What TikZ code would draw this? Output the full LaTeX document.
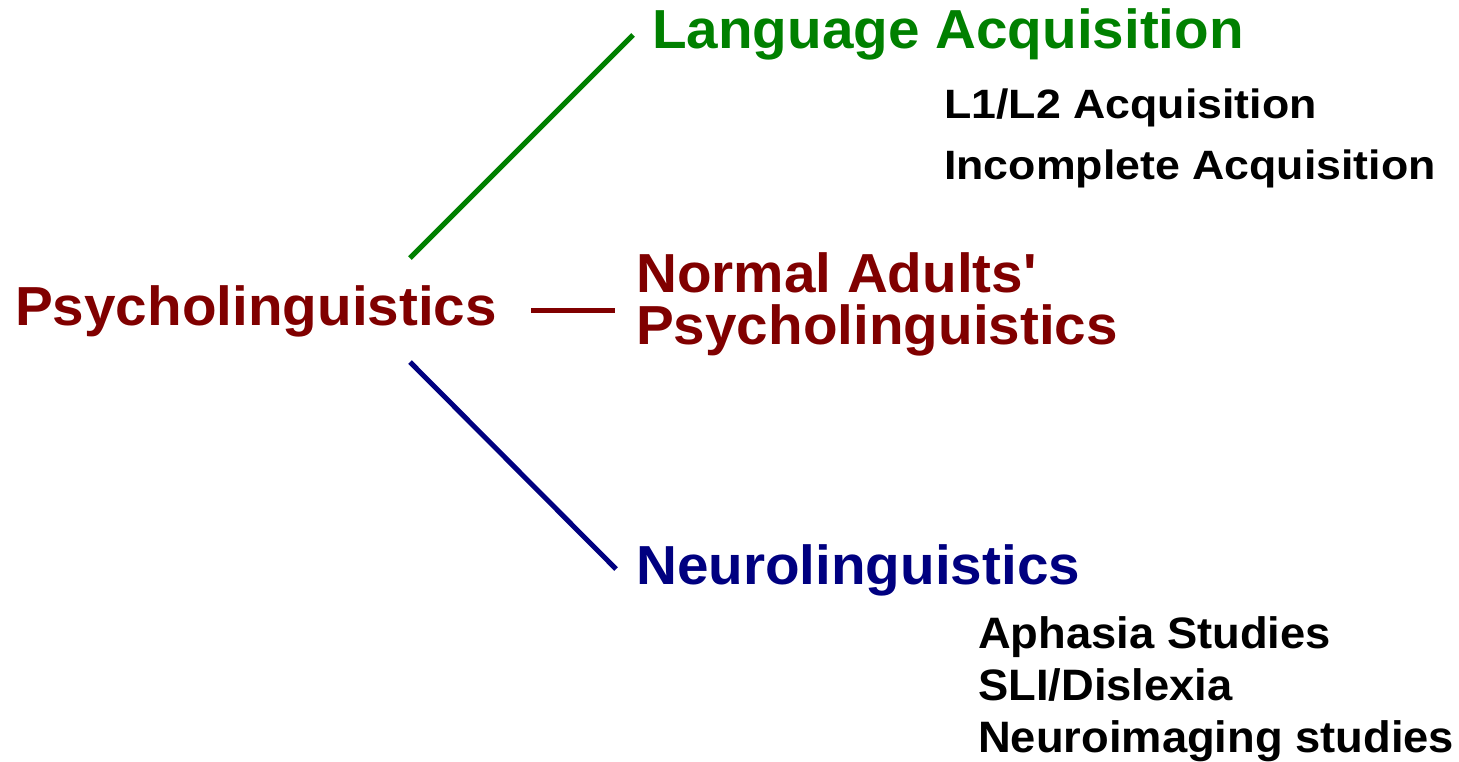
\documentclass[tikz,border=0pt]{standalone}
\usepackage{fontspec}
\newfontfamily\bigfont{Liberation Sans}[FakeStretch=1.03]
\newfontfamily\topfont{Liberation Sans}[FakeStretch=1.09]
\newfontfamily\botfont{Liberation Sans}[FakeStretch=1.03]
\definecolor{dgreen}{RGB}{0,128,0}
\definecolor{dred}{RGB}{128,0,0}
\definecolor{dblue}{RGB}{0,0,128}
\tikzset{
  lbl/.style={anchor=base west, inner sep=0pt, align=left},
  big/.style={lbl, font=\bigfont\bfseries\fontsize{55}{51}\selectfont},
  subtop/.style={lbl, font=\topfont\bfseries\fontsize{41}{41}\selectfont},
  subbot/.style={lbl, font=\botfont\bfseries\fontsize{44}{50}\selectfont},
  branch/.style={line width=5pt}
}
\begin{document}
\begin{tikzpicture}[x=1pt,y=-1pt]
\useasboundingbox (0,0) rectangle (1459,761);
% labels
\node[big, text=dred] (psy) at (15,325) {Psycholinguistics};
\node[big, text=dgreen] (lang) at (652,48) {Language Acquisition};
\node[subtop] (l1l2) at (944,118) {L1/L2 Acquisition};
\node[subtop] (incomp) at (944,179) {Incomplete Acquisition};
\node[big, text=dred] (normal) at (636,292) {Normal Adults\char"0027};
\node[big, text=dred] (normal2) at (636,344) {Psycholinguistics};
\node[big, text=dblue] (neuro) at (636,584) {Neurolinguistics};
\node[subbot] (aph) at (978,648) {Aphasia Studies};
\node[subbot] (sli) at (978,700) {SLI/Dislexia};
\node[subbot] (img) at (978,752) {Neuroimaging studies};
% connector ends
\coordinate (gA) at (410,258);
\coordinate (gB) at (633,35);
\coordinate (rA) at (531,310);
\coordinate (rB) at (615,310);
\coordinate (bA) at (410,362);
\coordinate (bB) at (616,569);
\draw[branch, dgreen] (gA) -- (gB);
\draw[branch, dred] (rA) -- (rB);
\draw[branch, dblue] (bA) -- (bB);
\end{tikzpicture}
\end{document}
